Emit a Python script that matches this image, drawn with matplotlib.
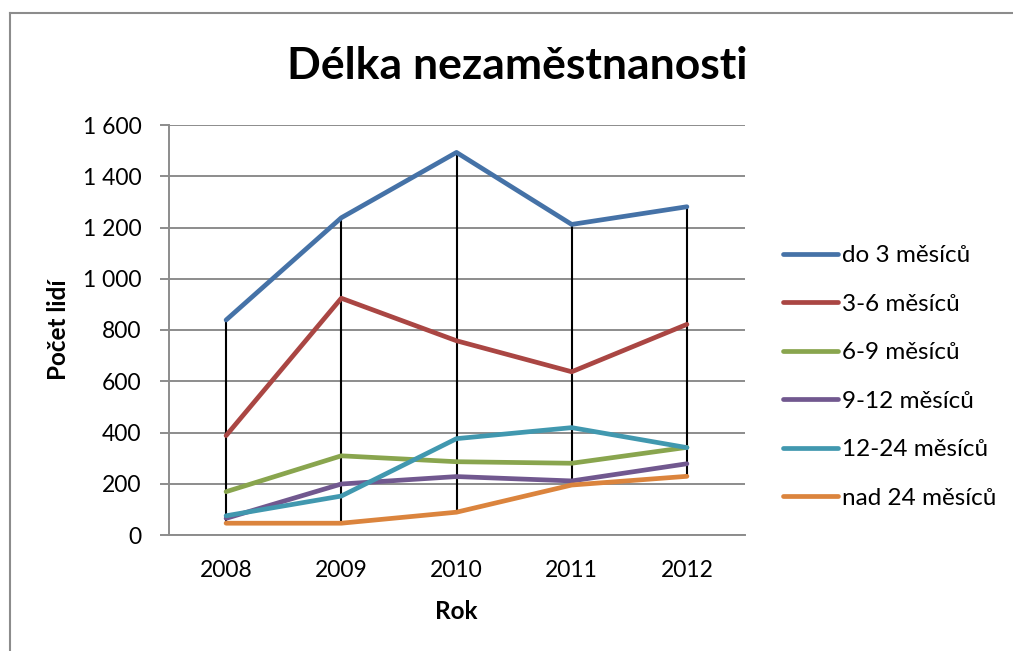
import matplotlib.pyplot as plt
from matplotlib.lines import Line2D

# data
years = ['2008', '2009', '2010', '2011', '2012']
do_3 = [839, 1238, 1493, 1212, 1281]
m3_6 = [388, 924, 758, 637, 822]
m6_9 = [169, 309, 286, 280, 342]
m9_12 = [65, 199, 228, 211, 278]
m12_24 = [75, 152, 376, 419, 341]
nad_24 = [46, 46, 89, 195, 229]
series_names = ['do 3 měsíců', '3-6 měsíců', '6-9 měsíců', '9-12 měsíců',
                '12-24 měsíců', 'nad 24 měsíců']
y_ticks = [0, 200, 400, 600, 800, 1000, 1200, 1400, 1600]
y_tick_labels = ['0', '200', '400', '600', '800', '1 000', '1 200', '1 400', '1 600']

series = [do_3, m3_6, m6_9, m9_12, m12_24, nad_24]
colors = ['#4572A7', '#AA4643', '#89A54E', '#71588F', '#4198AF', '#DB843D']

plt.rcParams['font.family'] = ['Lato', 'DejaVu Sans']

fig = plt.figure(figsize=(10.13, 6.51), dpi=100)
ax = fig.add_axes([168.5 / 1013, 116 / 651, 576 / 1013, 410 / 651])

x = list(range(len(years)))

# high-low lines
for i in x:
    vals = [s[i] for s in series]
    ax.plot([i, i], [min(vals), max(vals)], color='black', lw=1.5, zorder=2)

for s, name, c in zip(series, series_names, colors):
    ax.plot(x, s, color=c, lw=3.4, label=name, zorder=3,
            solid_capstyle='round', solid_joinstyle='round')

ax.set_xlim(-0.5, 4.5)
ax.set_ylim(0, 1600)
ax.set_xticks(x)
ax.set_xticklabels(years)
ax.set_yticks(y_ticks)
ax.set_yticklabels(y_tick_labels)
ax.yaxis.grid(True, color='#8C8C8C', lw=1.4)
ax.set_axisbelow(True)

for side in ['top', 'right']:
    ax.spines[side].set_visible(False)
ax.spines['left'].set_color('#8C8C8C')
ax.spines['left'].set_linewidth(1.4)
ax.spines['bottom'].set_color('#8C8C8C')
ax.spines['bottom'].set_linewidth(1.4)

ax.tick_params(axis='x', length=0, pad=18, labelsize=16.5)
ax.tick_params(axis='y', length=6.5, width=1.4, color='#8C8C8C', pad=13, labelsize=16.5)

ax.set_xlabel('Rok', fontsize=17.5, fontweight='bold', labelpad=14)
ax.set_ylabel('Počet lidí', fontsize=17.5, fontweight='bold', labelpad=9)

fig.text(517 / 1013, 1 - 66 / 651, 'Délka nezaměstnanosti', ha='center', va='center',
         fontsize=32, fontweight='bold')

ax.legend(loc='center left', bbox_to_anchor=(783 / 1013, 1 - 377 / 651),
          bbox_transform=fig.transFigure, frameon=False, fontsize=17.5,
          handlelength=2.26, handletextpad=0.16, labelspacing=1.13,
          borderpad=0, borderaxespad=0)

# outer border (top and left edges visible)
fig.add_artist(Line2D([9.5 / 1013, 1.0], [1 - 13 / 651, 1 - 13 / 651],
                      transform=fig.transFigure, color='#8C8C8C', lw=1.5))
fig.add_artist(Line2D([9.5 / 1013, 9.5 / 1013], [0, 1 - 13 / 651],
                      transform=fig.transFigure, color='#8C8C8C', lw=1.5))

fig.savefig('out.png', dpi=100)
